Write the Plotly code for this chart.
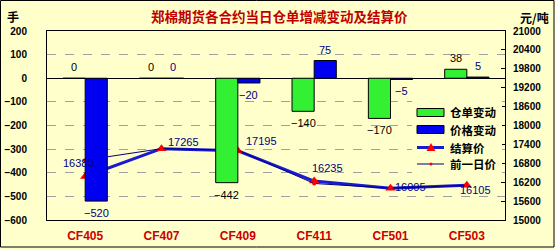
import plotly.graph_objects as go

categories = ["CF405", "CF407", "CF409", "CF411", "CF501", "CF503"]
warrant_change = [0, 0, -442, -140, -170, 38]        # 仓单变动
price_change = [-520, 0, -20, 75, -5, 5]             # 价格变动
settle_price = [16380, 17265, 17195, 16235, 16005, 16105]   # 结算价
prev_price = [16900, 17265, 17215, 16160, 16010, 16100]     # 前一日价
legend_names = ["仓单变动", "价格变动", "结算价", "前一日价"]

# label offsets (pixels) for settlement price labels
settle_label_dx = [-7, 22, 24, 13, 20, 9]
settle_label_dy = [14, 7, 10, 13, 1, -5]

W, H = 555, 250
L, R, T, B = 47, 50, 31, 30
pw, ph = W - L - R, H - T - B
bg = "#FFFFCC"
GREEN, BLUE, LINE_BLUE, NAVY, RED = "#33F033", "#0000F0", "#1A1AD0", "#000080", "#FF0000"

def px(xp):
    return (xp - L) / pw

def py(yp):
    return (H - B - yp) / ph

fig = go.Figure()

# price lines on the base (right) axis -> drawn beneath bars
fig.add_trace(go.Scatter(
    x=categories, y=settle_price, name=legend_names[2], mode="lines+markers",
    line=dict(color=LINE_BLUE, width=3),
    marker=dict(symbol="triangle-up", color=RED, size=9),
    xaxis="x", yaxis="y", showlegend=False,
))
fig.add_trace(go.Scatter(
    x=categories, y=prev_price, name=legend_names[3], mode="lines+markers",
    line=dict(color=NAVY, width=1),
    marker=dict(symbol="circle", color=RED, size=4),
    xaxis="x", yaxis="y", showlegend=False,
))

# bars on overlay (left) axis -> drawn on top
fig.add_trace(go.Bar(
    x=categories, y=warrant_change, name=legend_names[0],
    marker=dict(color=GREEN, line=dict(color="#000000", width=1)),
    xaxis="x", yaxis="y2", showlegend=False,
))
fig.add_trace(go.Bar(
    x=categories, y=price_change, name=legend_names[1],
    marker=dict(color=BLUE, line=dict(color="#000000", width=1)),
    xaxis="x", yaxis="y2", showlegend=False,
))

annotations = []
# bar value labels (outside end)
for vals, dx, col in ((warrant_change, -11, "#000000"), (price_change, 11, NAVY)):
    for c, v in zip(categories, vals):
        annotations.append(dict(
            x=c, y=v, xref="x", yref="y2", text=str(v).replace("-", "−"),
            showarrow=False, xanchor="center", yanchor="middle",
            xshift=dx, yshift=(11 if v >= 0 else -12),
            font=dict(family="Liberation Sans", size=11, color=col),
        ))

# settlement price labels
for c, v, dx, dy in zip(categories, settle_price, settle_label_dx, settle_label_dy):
    annotations.append(dict(
        x=c, y=v, xref="x", yref="y", text=str(v),
        showarrow=False, xanchor="center", yanchor="middle",
        xshift=dx, yshift=dy,
        font=dict(family="Liberation Sans", size=11, color=NAVY),
    ))

annotations += [
    dict(text="郑棉期货各合约当日仓单增减变动及结算价", x=px(279), y=py(16),
         xref="paper", yref="paper", showarrow=False, xanchor="center", yanchor="middle",
         font=dict(family="Noto Sans CJK SC", size=13.5, color="#C00000", weight="bold")),
    dict(text="手", x=px(13), y=py(16), xref="paper", yref="paper", showarrow=False,
         xanchor="center", yanchor="middle",
         font=dict(family="Noto Sans CJK SC", size=12, color="#000000", weight="bold")),
    dict(text="元/吨", x=px(534), y=py(18), xref="paper", yref="paper", showarrow=False,
         xanchor="center", yanchor="middle",
         font=dict(family="Noto Sans CJK SC", size=12, color="#000000", weight="bold")),
]

# legend (drawn manually to match compact layout)
leg_y = [112.5, 129.5, 147.5, 164]
for name, yy in zip(legend_names, leg_y):
    annotations.append(dict(
        text=name, x=px(448), y=py(yy), xref="paper", yref="paper", showarrow=False,
        xanchor="left", yanchor="middle",
        font=dict(family="Noto Sans CJK SC", size=11.5, color="#000000", weight="bold"),
    ))

def rect(x0, y0, x1, y1, fill, line_col=None, lw=0):
    return dict(type="rect", xref="paper", yref="paper",
                x0=px(x0), x1=px(x1), y0=py(y1), y1=py(y0),
                fillcolor=fill, line=dict(color=line_col or fill, width=lw), layer="above")

def seg(x0, y0, x1, y1, col, w):
    return dict(type="line", xref="paper", yref="paper", x0=px(x0), x1=px(x1),
                y0=py(y0), y1=py(y1), line=dict(color=col, width=w), layer="above")

tri_x, tri_y = 431, leg_y[2]
tri_path = "M {} {} L {} {} L {} {} Z".format(
    px(tri_x - 4.5), py(tri_y + 3.5), px(tri_x + 4.5), py(tri_y + 3.5), px(tri_x), py(tri_y - 4.5))

shapes = [
    dict(type="rect", xref="paper", yref="paper",
         x0=px(0.5), x1=px(554), y0=py(0.5), y1=py(247),
         line=dict(color="#000000", width=1), fillcolor="rgba(0,0,0,0)", layer="below"),
    rect(412, 100, 502, 174, bg, bg, 0),
    rect(417, leg_y[0] - 4, 444, leg_y[0] + 4, GREEN, "#000000", 1),
    rect(417, leg_y[1] - 4, 444, leg_y[1] + 4, BLUE, "#000000", 1),
    seg(417, leg_y[2], 444, leg_y[2], LINE_BLUE, 3),
    dict(type="path", xref="paper", yref="paper", path=tri_path,
         fillcolor=RED, line=dict(color=RED, width=0), layer="above"),
    seg(417, leg_y[3], 444, leg_y[3], NAVY, 1),
    dict(type="circle", xref="paper", yref="paper",
         x0=px(429.5), x1=px(432.5), y0=py(leg_y[3] + 1.5), y1=py(leg_y[3] - 1.5),
         fillcolor=RED, line=dict(color=RED, width=0), layer="above"),
]

tickfont = dict(family="Liberation Sans", size=10, color="#000000", weight="bold")

fig.update_layout(
    width=W, height=H,
    margin=dict(l=L, r=R, t=T, b=B, autoexpand=False),
    paper_bgcolor=bg, plot_bgcolor=bg,
    barmode="group", bargap=0.42, bargroupgap=0,
    showlegend=False,
    xaxis=dict(
        type="category", range=[-0.5, 5.5], automargin=False,
        showline=True, mirror=True, linecolor="#000000", linewidth=1,
        showgrid=False, ticks="",
        tickfont=dict(family="Liberation Sans", size=12, color="#CC0000", weight="bold"),
        ticklabelstandoff=5,
    ),
    yaxis=dict(
        range=[15000, 21000], dtick=600, side="right", tickformat="d", automargin=False,
        showgrid=False, zeroline=False,
        showline=True, linecolor="#000000", linewidth=1,
        ticks="inside", ticklen=4, tickcolor="#000000",
        tickfont=tickfont, ticklabelstandoff=5,
    ),
    yaxis2=dict(
        range=[-600, 200], dtick=100, side="left", overlaying="y", automargin=False,
        showgrid=True, gridcolor="#A0A0A0", griddash="dash", gridwidth=1,
        zeroline=True, zerolinecolor="#000000", zerolinewidth=1,
        showline=True, linecolor="#000000", linewidth=1,
        ticks="", tickfont=tickfont, ticklabelstandoff=17,
    ),
    annotations=annotations,
    shapes=shapes,
)

fig.write_html("out.html")
